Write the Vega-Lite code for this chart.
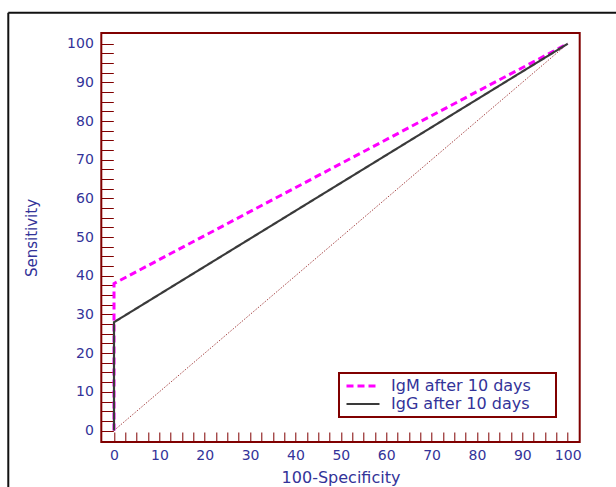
{
  "$schema": "https://vega.github.io/schema/vega-lite/v6.json",
  "autosize": "none",
  "width": 478.4,
  "height": 409,
  "padding": {"left": 101.3, "top": 33, "right": 36.3, "bottom": 45},
  "background": "white",
  "config": {
    "view": {"stroke": "#800000", "strokeWidth": 2},
    "font": "DejaVu Sans",
    "axis": {
      "domain": false,
      "grid": false,
      "labelFont": "DejaVu Sans",
      "labelFontSize": 14,
      "labelColor": "#333399",
      "titleFont": "DejaVu Sans",
      "titleColor": "#333399",
      "titleFontWeight": "normal",
      "tickColor": "#800000",
      "labelOverlap": false,
      "labelFlush": false,
      "tickCount": 100
    },
    "legend": {"strokeWidth": 2}
  },
  "datasets": {
    "roc": [
      {"series": "IgM after 10 days", "i": 0, "x": 0, "y": 0},
      {"series": "IgM after 10 days", "i": 1, "x": 0, "y": 38},
      {"series": "IgM after 10 days", "i": 2, "x": 100, "y": 100},
      {"series": "IgG after 10 days", "i": 0, "x": 0, "y": 0},
      {"series": "IgG after 10 days", "i": 1, "x": 0, "y": 28},
      {"series": "IgG after 10 days", "i": 2, "x": 100, "y": 100}
    ],
    "diag": [
      {"x": 0, "y": 0},
      {"x": 100, "y": 100}
    ],
    "one": [{}]
  },
  "layer": [
    {
      "data": {"name": "diag"},
      "mark": {"type": "line", "stroke": "#a84848", "strokeWidth": 1, "strokeDash": [1.5, 1.5]},
      "encoding": {
        "x": {
          "field": "x", "type": "quantitative",
          "scale": {"domain": [-2.8, 102.64], "nice": false, "zero": false},
          "axis": {
            "title": "100-Specificity",
            "titleFontSize": 16,
            "titlePadding": 7,
            "values": [0,2.5,5,7.5,10,12.5,15,17.5,20,22.5,25,27.5,30,32.5,35,37.5,40,42.5,45,47.5,50,52.5,55,57.5,60,62.5,65,67.5,70,72.5,75,77.5,80,82.5,85,87.5,90,92.5,95,97.5,100],
            "tickCount": 100,
            "labelExpr": "datum.value % 10 === 0 ? datum.label : ''",
            "tickSize": -10,
            "labelPadding": 16,
            "encode": {"ticks": {"update": {
              "y2": {"signal": "datum.value % 10 === 0 ? -10 : -6"},
              "strokeWidth": {"signal": "datum.value % 10 === 0 ? 2 : 1.5"}
            }}}
          }
        },
        "y": {
          "field": "y", "type": "quantitative",
          "scale": {"domain": [-2.97, 102.77], "nice": false, "zero": false},
          "axis": {
            "title": "Sensitivity",
            "titleFontSize": 15,
            "titlePadding": 27,
            "values": [0,2.5,5,7.5,10,12.5,15,17.5,20,22.5,25,27.5,30,32.5,35,37.5,40,42.5,45,47.5,50,52.5,55,57.5,60,62.5,65,67.5,70,72.5,75,77.5,80,82.5,85,87.5,90,92.5,95,97.5,100],
            "tickCount": 100,
            "labelExpr": "datum.value % 10 === 0 ? datum.label : ''",
            "tickSize": -12,
            "labelPadding": 20,
            "encode": {"ticks": {"update": {
              "x2": {"signal": "datum.value % 10 === 0 ? 12 : 8"},
              "strokeWidth": {"signal": "datum.value % 10 === 0 ? 2 : 1.5"}
            }}}
          }
        }
      }
    },
    {
      "data": {"name": "roc"},
      "mark": {"type": "line"},
      "encoding": {
        "x": {"field": "x", "type": "quantitative"},
        "y": {"field": "y", "type": "quantitative"},
        "order": {"field": "i"},
        "color": {
          "field": "series", "type": "nominal",
          "scale": {"domain": ["IgM after 10 days", "IgG after 10 days"], "range": ["#ff00ff", "#3a3a3a"]},
          "legend": {
            "title": null,
            "orient": "none",
            "legendX": 237.7,
            "legendY": 340,
            "direction": "vertical",
            "symbolType": "M-1,0H5M35,0",
            "symbolSize": 121,
            "symbolStrokeWidth": 2.5,
            "labelFont": "DejaVu Sans",
            "labelFontSize": 16,
            "labelColor": "#333399",
            "labelOffset": 31,
            "labelLimit": 400,
            "strokeColor": "#800000",
            "fillColor": "white",
            "padding": 5,
            "rowPadding": 2
          }
        },
        "strokeDash": {
          "field": "series", "type": "nominal",
          "scale": {"domain": ["IgM after 10 days", "IgG after 10 days"], "range": [[7, 4], [1, 0]]},
          "legend": {
            "title": null,
            "orient": "none",
            "legendX": 237.7,
            "legendY": 340,
            "direction": "vertical",
            "symbolType": "M-1,0H5M35,0",
            "symbolSize": 121,
            "symbolStrokeWidth": 2.5,
            "labelFont": "DejaVu Sans",
            "labelFontSize": 16,
            "labelColor": "#333399",
            "labelOffset": 31,
            "labelLimit": 400,
            "strokeColor": "#800000",
            "fillColor": "white",
            "padding": 5,
            "rowPadding": 2
          }
        },
        "strokeWidth": {
          "field": "series", "type": "nominal",
          "scale": {"domain": ["IgM after 10 days", "IgG after 10 days"], "range": [3, 2.2]},
          "legend": null
        }
      }
    },
    {
      "data": {"name": "one"},
      "mark": {"type": "rule", "stroke": "#111111", "strokeWidth": 2, "clip": false},
      "encoding": {
        "x": {"datum": -23.3, "type": "quantitative"},
        "y": {"datum": 108.0, "type": "quantitative"},
        "y2": {"datum": -30}
      }
    },
    {
      "data": {"name": "one"},
      "mark": {"type": "rule", "stroke": "#111111", "strokeWidth": 2, "clip": false},
      "encoding": {
        "x": {"datum": -23.3, "type": "quantitative"},
        "x2": {"datum": 120},
        "y": {"datum": 108.0, "type": "quantitative"}
      }
    }
  ]
}
